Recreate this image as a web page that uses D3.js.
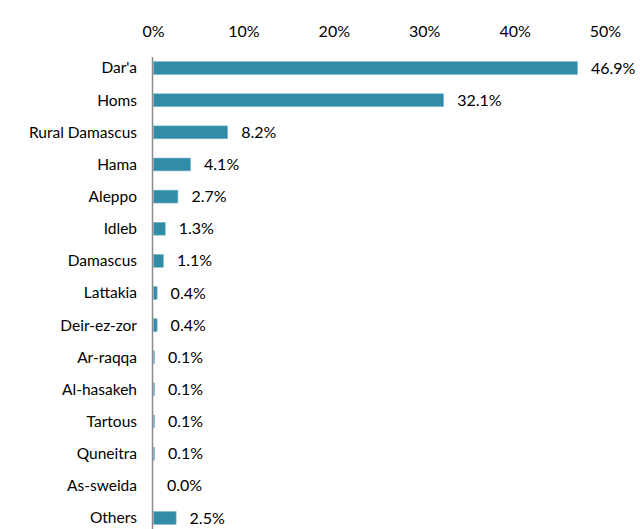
<!DOCTYPE html>
<html>
<head>
<meta charset="utf-8">
<script src="https://cdn.jsdelivr.net/npm/d3@7"></script>
<style>
  body { margin: 0; background: #fff; }
  svg text { font-family: Lato, "Open Sans", sans-serif; fill: #000; }
</style>
</head>
<body>
<svg width="640" height="529"></svg>
<script>
// governorates and their share (%)
var regions = ["Dar'a", "Homs", "Rural Damascus", "Hama", "Aleppo", "Idleb", "Damascus",
  "Lattakia", "Deir-ez-zor", "Ar-raqqa", "Al-hasakeh", "Tartous", "Quneitra", "As-sweida", "Others"];
var shares = [46.9, 32.1, 8.2, 4.1, 2.7, 1.3, 1.1, 0.4, 0.4, 0.1, 0.1, 0.1, 0.1, 0.0, 2.5];
var ticks = [0, 10, 20, 30, 40, 50];

var svg = d3.select("svg"),
  margin = {top: 52, left: 153},
  width = 452,
  height = 482,
  g = svg.append("g").attr("transform", "translate(" + margin.left + "," + margin.top + ")");

var x = d3.scaleLinear().domain([0, 50]).range([0, width]);
var y = d3.scaleBand().domain(regions).range([0, height]).paddingInner(0.6).paddingOuter(0.3);

var data = regions.map(function(r, i) { return {name: r, value: shares[i]}; });

// top axis, labels only
g.append("g")
  .call(d3.axisTop(x).tickValues(ticks).tickSize(0).tickPadding(0).tickFormat(function(d) { return d + "%"; }))
  .call(function(s) { s.select(".domain").remove(); })
  .attr("transform", "translate(0,-21)")
  .selectAll("text")
  .attr("font-size", 16)
  .attr("dy", "0.35em")
  .style("font-family", "Lato, 'Open Sans', sans-serif");

g.selectAll(".bar")
  .data(data)
  .enter().append("rect")
  .attr("class", "bar")
  .attr("x", x(0) + 0.5)
  .attr("y", function(d) { return y(d.name); })
  .attr("width", function(d) { return x(d.value); })
  .attr("height", y.bandwidth())
  .attr("fill", "#318da7")
  .attr("stroke", "#7db6c9")
  .attr("stroke-width", 0.6);

// vertical axis line
g.append("line")
  .attr("x1", -0.5).attr("x2", -0.5)
  .attr("y1", 5).attr("y2", 480)
  .attr("stroke", "#8c8c8c")
  .attr("stroke-width", 1.5);

g.selectAll(".cat")
  .data(data)
  .enter().append("text")
  .attr("class", "cat")
  .attr("x", -16)
  .attr("y", function(d) { return y(d.name) + y.bandwidth() / 2; })
  .attr("dy", "0.35em")
  .attr("text-anchor", "end")
  .attr("font-size", 15.5)
  .text(function(d) { return d.name; });

g.selectAll(".val")
  .data(data)
  .enter().append("text")
  .attr("class", "val")
  .attr("x", function(d) { return x(d.value) + 14; })
  .attr("y", function(d) { return y(d.name) + y.bandwidth() / 2; })
  .attr("dy", "0.35em")
  .attr("font-size", 16)
  .text(function(d) { return d.value.toFixed(1) + "%"; });
</script>
</body>
</html>
